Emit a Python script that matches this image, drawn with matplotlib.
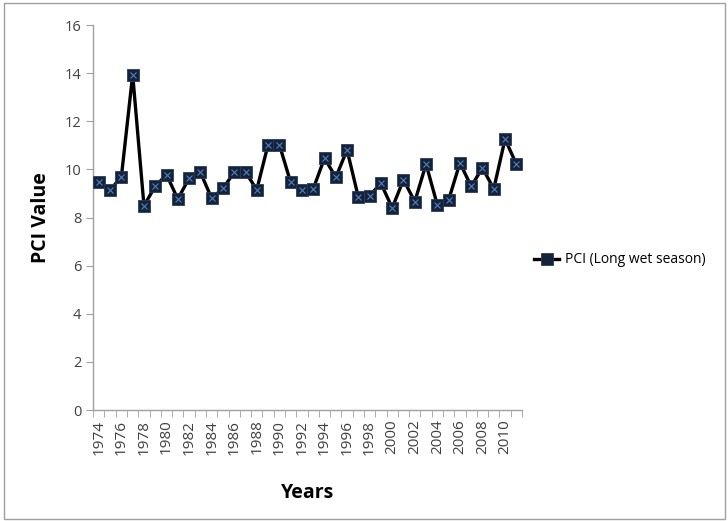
import matplotlib
matplotlib.use("Agg")
import matplotlib.pyplot as plt
from matplotlib.patches import Rectangle

# PCI values for the long wet season, 1974-2011
years = list(range(1974, 2012))
pci = [9.46, 9.14, 9.70, 13.94, 8.49, 9.30, 9.78, 8.77, 9.63, 9.88,
       8.80, 9.21, 9.88, 9.88, 9.16, 11.03, 11.03, 9.46, 9.16, 9.19,
       10.47, 9.67, 10.81, 8.84, 8.91, 9.42, 8.40, 9.57, 8.66, 10.22,
       8.52, 8.73, 10.27, 9.30, 10.06, 9.19, 11.26, 10.22]
yticks = [0, 2, 4, 6, 8, 10, 12, 14, 16]

plt.rcParams['font.family'] = ['Open Sans', 'DejaVu Sans']

fig = plt.figure(figsize=(7.28, 5.21), dpi=100)
ax = fig.add_axes([0.128, 0.213, 0.589, 0.739])

x = list(range(len(years)))
ax.plot(x, pci, color='black', linewidth=2.4, marker='s', markersize=8,
        markerfacecolor='#14223a', markeredgecolor='#2a3d5e', markeredgewidth=0.6,
        label='PCI (Long wet season)', zorder=3)
ax.plot(x, pci, linestyle='none', marker='x', markersize=5, markeredgewidth=0.8,
        color='#4f7fc0', zorder=4)

ax.set_xlim(-0.5, len(years) - 0.5)
ax.set_ylim(0, 16)
ax.set_yticks(yticks)
ax.tick_params(axis='y', labelsize=10.5, colors='#404040', length=5, color='#a0a0a0')

# category axis: labels on every second year, tick marks between categories
ax.set_xticks(x[::2])
ax.set_xticklabels([str(y) for y in years[::2]], rotation=90)
ax.set_xticks([i - 0.5 for i in range(len(years) + 1)], minor=True)
ax.tick_params(axis='x', which='major', length=0, labelsize=11, colors='#404040', pad=7)
ax.tick_params(axis='x', which='minor', length=5, color='#a0a0a0')

for s in ['top', 'right']:
    ax.spines[s].set_visible(False)
for s in ['left', 'bottom']:
    ax.spines[s].set_color('#a0a0a0')
    ax.spines[s].set_linewidth(1)

ax.set_ylabel('PCI Value', fontsize=14, fontweight='bold', labelpad=10)
ax.set_xlabel('Years', fontsize=14, fontweight='bold', labelpad=20)

ax.legend(handles=[ax.lines[0]], loc='center left', bbox_to_anchor=(1.0, 0.39),
          frameon=False, fontsize=10, handlelength=1.8, handletextpad=0.4)

fig.patches.append(Rectangle((0.006, 0.004), 0.99, 0.99, transform=fig.transFigure,
                             fill=False, edgecolor='#a0a0a0', linewidth=1))

fig.savefig('out.png', dpi=100)
